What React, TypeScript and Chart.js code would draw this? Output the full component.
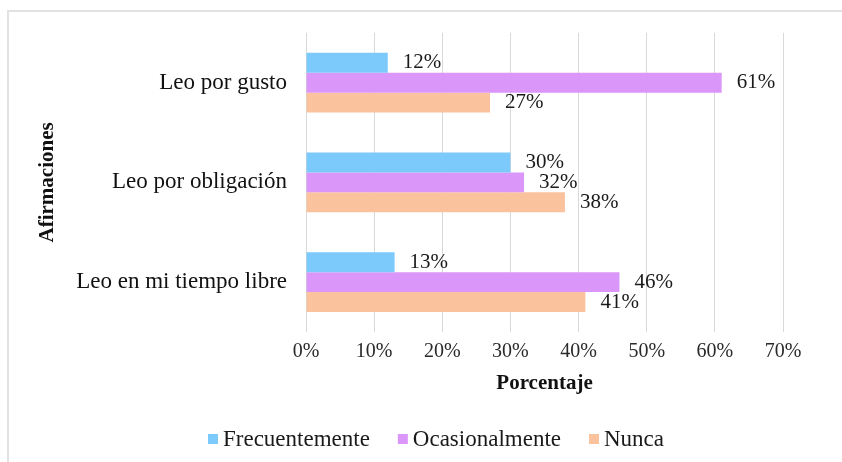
import React, { useEffect, useRef } from "react";
import { Chart, registerables } from "chart.js";

Chart.register(...registerables);

const categories = ["Leo por gusto", "Leo por obligación", "Leo en mi tiempo libre"];
const seriesNames = ["Frecuentemente", "Ocasionalmente", "Nunca"];
const frecuentemente = [12, 30, 13];
const ocasionalmente = [61, 32, 46];
const nunca = [27, 38, 41];
const xTicks = [0, 10, 20, 30, 40, 50, 60, 70];

const COLORS = ["#7CC9FB", "#DB96F9", "#FAC39E"];
const FONT = '"Liberation Serif", "Times New Roman", serif';

const valueLabels = {
  id: "valueLabels",
  afterDatasetsDraw(chart: any) {
    const ctx = chart.ctx;
    ctx.save();
    ctx.font = `21px ${FONT}`;
    ctx.fillStyle = "#1a1a1a";
    ctx.textBaseline = "middle";
    ctx.textAlign = "left";
    chart.data.datasets.forEach((ds: any, i: number) => {
      const meta = chart.getDatasetMeta(i);
      meta.data.forEach((el: any, j: number) => {
        ctx.fillText(ds.data[j] + "%", el.x + 15, el.y);
      });
    });
    ctx.restore();
  },
};

const customLegend = {
  id: "customLegend",
  afterDraw(chart: any) {
    const ctx = chart.ctx;
    ctx.save();
    ctx.font = `23px ${FONT}`;
    ctx.textBaseline = "middle";
    ctx.textAlign = "left";
    const box = 10;
    const gapText = 5;
    const gapItem = 28;
    const items = chart.data.datasets.map((d: any) => ({
      text: d.label,
      color: d.backgroundColor,
      w: ctx.measureText(d.label).width,
    }));
    const total =
      items.reduce((s: number, it: any) => s + box + gapText + it.w, 0) +
      gapItem * (items.length - 1);
    const cx = chart.width / 2 + 15;
    const cy = 439;
    let x = cx - total / 2;
    items.forEach((it: any) => {
      ctx.fillStyle = it.color;
      ctx.fillRect(x, cy - box / 2, box, box);
      x += box + gapText;
      ctx.fillStyle = "#1a1a1a";
      ctx.fillText(it.text, x, cy + 1);
      x += it.w + gapItem;
    });
    ctx.restore();
  },
};

export default function App() {
  const ref = useRef<HTMLCanvasElement | null>(null);

  useEffect(() => {
    if (!ref.current) return;
    const chart = new Chart(ref.current, {
      type: "bar",
      data: {
        labels: categories,
        datasets: [
          { label: seriesNames[0], data: frecuentemente, backgroundColor: COLORS[0] },
          { label: seriesNames[1], data: ocasionalmente, backgroundColor: COLORS[1] },
          { label: seriesNames[2], data: nunca, backgroundColor: COLORS[2] },
        ],
      },
      options: {
        indexAxis: "y",
        responsive: true,
        maintainAspectRatio: false,
        animation: false,
        datasets: {
          bar: { categoryPercentage: 0.6, barPercentage: 1.0 },
        },
        layout: {
          autoPadding: false,
          padding: { top: 32, left: 0, right: 59, bottom: 0 },
        },
        plugins: {
          legend: { display: false },
          tooltip: { enabled: false },
        },
        scales: {
          x: {
            type: "linear",
            min: 0,
            max: 70,
            afterBuildTicks: (scale: any) => {
              scale.ticks = xTicks.map((v) => ({ value: v }));
            },
            afterFit: (scale: any) => {
              scale.height = 130;
            },
            grid: { color: "#d9d9d9", lineWidth: 1, drawTicks: false },
            border: { display: false },
            ticks: {
              padding: 8,
              color: "#2a2a2a",
              font: { family: FONT, size: 20 },
              callback: (v: any) => v + "%",
            },
            title: {
              display: true,
              text: "Porcentaje",
              color: "#111",
              font: { family: FONT, size: 21, weight: "bold" },
              padding: { top: 0, bottom: 66 },
            },
          },
          y: {
            type: "category",
            afterFit: (scale: any) => {
              scale.width = 306;
            },
            grid: { display: false, drawTicks: false },
            border: { display: false },
            ticks: {
              padding: 19,
              color: "#111",
              font: { family: FONT, size: 23 },
            },
            title: {
              display: true,
              text: "Afirmaciones",
              color: "#111",
              font: { family: FONT, size: 21, weight: "bold" },
              padding: { top: 35, bottom: 0 },
            },
          },
        },
      },
      plugins: [valueLabels, customLegend],
    });
    return () => chart.destroy();
  }, []);

  return (
    <div
      style={{
        position: "fixed",
        left: 0,
        top: 0,
        width: 842,
        height: 462,
        background: "#fff",
        overflow: "hidden",
      }}
    >
      <div
        style={{
          position: "absolute",
          left: 7,
          top: 10,
          width: 900,
          height: 500,
          border: "2px solid #e2e2e2",
          boxSizing: "border-box",
        }}
      />
      <div style={{ position: "absolute", left: 0, top: 0, width: 842, height: 462 }}>
        <canvas ref={ref} />
      </div>
    </div>
  );
}
